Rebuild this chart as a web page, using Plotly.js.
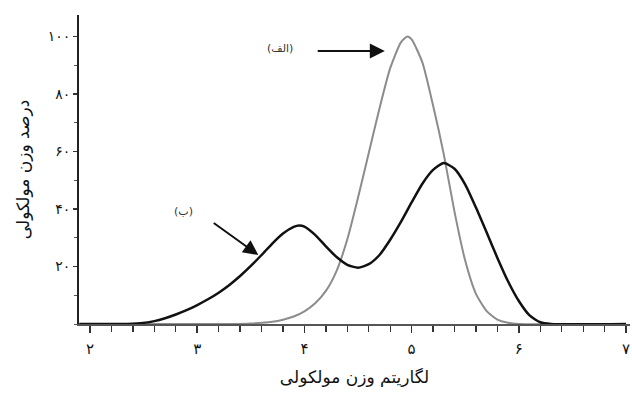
<!DOCTYPE html>
<html>
<head>
<meta charset="utf-8">
<script src="https://cdn.plot.ly/plotly-3.0.1.min.js"></script>
<style>html,body{margin:0;padding:0;background:#fff;}#chart{width:632px;height:394px;}</style>
</head>
<body>
<div id="chart"></div>
<script>
// Curve (الف)
const alefX = [1.9, 3.3, 3.5, 3.7, 3.8, 3.9, 4.0, 4.1, 4.2, 4.3, 4.4, 4.5, 4.6, 4.7, 4.8, 4.9, 4.96, 5.0, 5.1, 5.2, 5.3, 5.4, 5.5, 5.6, 5.7, 5.8, 5.9, 6.0, 7.0];
const alefY = [0, 0, 0.2, 0.8, 1.5, 2.6, 4.4, 7.2, 11.5, 18.5, 29.5, 44, 59.5, 75, 89, 98, 100, 99, 91, 76, 59, 39, 22, 10.5, 4.5, 1.5, 0.4, 0, 0];
// Curve (ب)
const beX = [1.9, 2.3, 2.47, 2.6, 2.7, 2.8, 2.9, 3.0, 3.1, 3.2, 3.3, 3.4, 3.5, 3.6, 3.7, 3.8, 3.9, 3.95, 4.0, 4.1, 4.2, 4.3, 4.4, 4.5, 4.6, 4.7, 4.8, 4.9, 5.0, 5.1, 5.2, 5.3, 5.4, 5.5, 5.6, 5.7, 5.8, 5.9, 6.0, 6.1, 6.2, 6.3, 7.0];
const beY = [0, 0, 0.3, 1, 2, 3.3, 4.8, 6.6, 8.6, 10.9, 13.6, 16.7, 20.2, 24, 28, 31.5, 33.8, 34.3, 33.9, 31, 27, 23.3, 20.6, 19.6, 20.8, 24, 29.3, 35.5, 42.3, 48.8, 53.6, 56, 54, 48.5, 40.5, 31.8, 23, 14.8, 8, 3, 0.6, 0, 0];

const xTickVals = [2, 3, 4, 5, 6, 7];
const xTickText = ['۲', '۳', '۴', '۵', '۶', '۷'];
const yTickVals = [20, 40, 60, 80, 100];
const yTickText = ['۲۰', '۴۰', '۶۰', '۸۰', '۱۰۰'];

const labelAlef = '(الف)';
const labelBe = '(ب)';
const xTitle = 'لگاریتم وزن مولکولی';
const yTitle = 'درصد وزن مولکولی';

const FONT = 'DejaVu Sans, sans-serif';

const traces = [
  {x: alefX, y: alefY, type: 'scatter', mode: 'lines', line: {color: '#8c8c8c', width: 2, shape: 'spline', smoothing: 0.6}, hoverinfo: 'skip'},
  {x: beX, y: beY, type: 'scatter', mode: 'lines', line: {color: '#111111', width: 2.5, shape: 'spline', smoothing: 0.6}, hoverinfo: 'skip'}
];

const layout = {
  width: 632, height: 394,
  margin: {l: 79, r: 2, t: 15, b: 70},
  paper_bgcolor: '#ffffff', plot_bgcolor: '#ffffff',
  showlegend: false,
  font: {family: FONT, color: '#111'},
  xaxis: {
    range: [1.897, 7.037], showgrid: false, zeroline: false,
    showline: true, linecolor: '#555', linewidth: 1.5,
    ticks: 'outside', ticklen: 7, tickwidth: 1.5, tickcolor: '#333',
    tickvals: xTickVals, ticktext: xTickText,
    tickfont: {family: FONT, size: 15, color: '#111'},
    ticklabelstandoff: 3,
    minor: {dtick: 0.2, ticks: 'outside', ticklen: 6, tickwidth: 1.3, tickcolor: '#333', showgrid: false},
    title: {text: xTitle, font: {family: FONT, size: 17, color: '#111'}, standoff: 14}
  },
  yaxis: {
    range: [0, 107.5], showgrid: false, zeroline: false,
    showline: true, linecolor: '#222', linewidth: 2,
    ticks: 'outside', ticklen: 4, tickwidth: 1.3, tickcolor: '#333',
    tickvals: yTickVals, ticktext: yTickText,
    tickfont: {family: FONT, size: 14, color: '#111'},
    minor: {dtick: 10, ticks: 'outside', ticklen: 3, tickwidth: 1, tickcolor: '#555', showgrid: false},
    title: {text: yTitle, font: {family: FONT, size: 17, color: '#111'}, standoff: 14}
  },
  annotations: [
    {x: 3.77, y: 95.7, xref: 'x', yref: 'y', text: labelAlef, showarrow: false, font: {family: FONT, size: 11, color: '#333'}},
    {x: 4.75, y: 95, ax: 4.11, ay: 95, axref: 'x', ayref: 'y', xref: 'x', yref: 'y', text: '', showarrow: true, arrowhead: 2, arrowsize: 1.5, arrowwidth: 2, arrowcolor: '#111'},
    {x: 2.87, y: 39, xref: 'x', yref: 'y', text: labelBe, showarrow: false, font: {family: FONT, size: 11, color: '#333'}},
    {x: 3.57, y: 24, ax: 3.14, ay: 35.5, axref: 'x', ayref: 'y', xref: 'x', yref: 'y', text: '', showarrow: true, arrowhead: 2, arrowsize: 1.5, arrowwidth: 2, arrowcolor: '#111'}
  ]
};

Plotly.newPlot('chart', traces, layout, {staticPlot: true, displayModeBar: false});
</script>
</body>
</html>
